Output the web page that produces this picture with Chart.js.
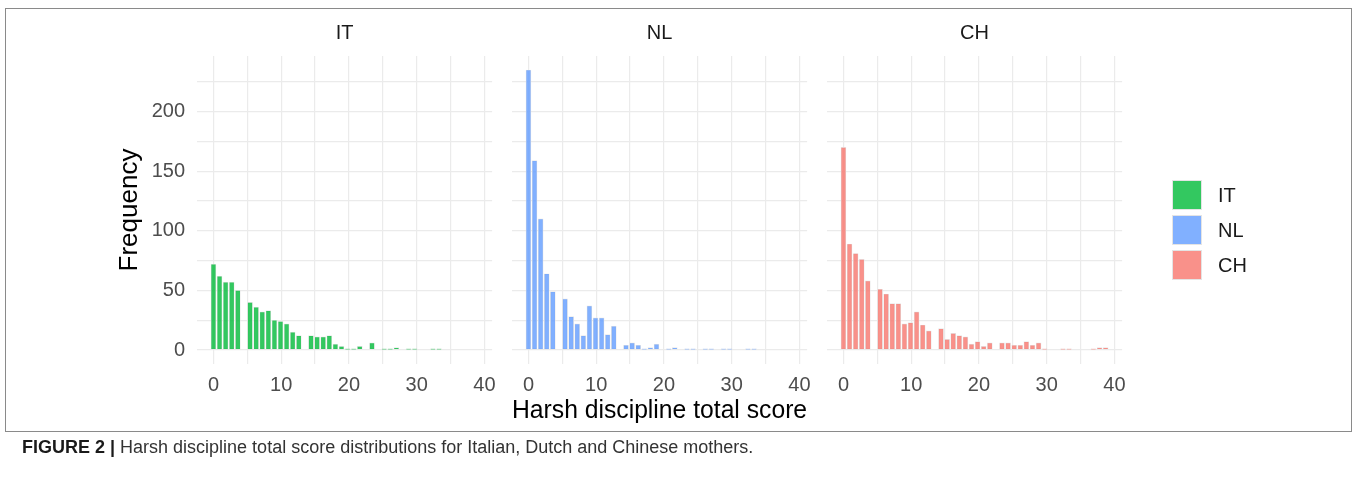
<!DOCTYPE html>
<html>
<head>
<meta charset="utf-8">
<script src="https://cdn.jsdelivr.net/npm/chart.js@4.4.1/dist/chart.umd.min.js"></script>
<style>
  html, body { margin: 0; padding: 0; background: #ffffff; }
  body { width: 1358px; height: 496px; position: relative; overflow: hidden;
         font-family: "Liberation Sans", Arial, Helvetica, sans-serif; }
  #frame { position: absolute; left: 5px; top: 8px; width: 1347px; height: 424px;
           border: 1px solid #8a8a8a; box-sizing: border-box; }
  canvas.panel { position: absolute; left: 0; top: 0; }
  .key { position: absolute; left: 1172px; width: 30px; height: 30px; box-sizing: border-box;
         border: 1px solid #e4e4e4; }
  .keylab { position: absolute; left: 1218px; font-size: 20px; line-height: 30px; color: #1a1a1a; }
  #caption { position: absolute; left: 22px; top: 437px; font-size: 18px; line-height: 20px;
             color: #333333; white-space: nowrap; }
  #caption b { color: #1a1a1a; }
</style>
</head>
<body>
<div id="frame"></div>
<canvas class="panel" id="pIT" width="1358" height="496"></canvas>
<canvas class="panel" id="pNL" width="1358" height="496"></canvas>
<canvas class="panel" id="pCH" width="1358" height="496"></canvas>
<div id="legend"></div>
<div id="caption"><b>FIGURE 2 |</b> Harsh discipline total score distributions for Italian, Dutch and Chinese mothers.</div>

<script>
// Histogram bin midpoints (total score), one bin per bar
const binMid = [0, 0.9, 1.8, 2.7, 3.6, 4.5, 5.4, 6.3, 7.2, 8.1,
                9, 9.9, 10.8, 11.7, 12.6, 13.5, 14.4, 15.3, 16.2, 17.1,
                18, 18.9, 19.8, 20.7, 21.6, 22.5, 23.4, 24.3, 25.2, 26.1,
                27, 27.9, 28.8, 29.7, 30.6, 31.5, 32.4, 33.3, 34.2, 35.1,
                36, 36.9, 37.8, 38.7];

// Frequencies per bin, one array per country
const countsIT = [72, 62, 57, 57, 50, 0, 40, 36, 32, 33,
                  25, 24, 22, 15, 12, 0, 12, 11, 11, 12,
                  5, 3, 1, 1, 3, 0, 6, 0, 1, 1,
                  2, 0, 1, 1, 0, 0, 1, 1, 0, 0,
                  0, 0, 0, 0];
const countsNL = [235, 159, 110, 64, 49, 0, 43, 28, 22, 12,
                  37, 27, 27, 13, 20, 0, 4, 6, 4, 1,
                  2, 5, 0, 1, 2, 0, 1, 1, 0, 1,
                  1, 0, 1, 1, 0, 0, 1, 1, 0, 0,
                  0, 0, 0, 0];
const countsCH = [170, 89, 81, 76, 58, 0, 51, 47, 39, 39,
                  22, 23, 32, 21, 16, 0, 18, 9, 14, 12,
                  11, 5, 7, 3, 6, 0, 6, 6, 4, 4,
                  7, 4, 6, 1, 0, 0, 1, 1, 0, 0,
                  0, 1, 2, 2];

const countries = ['IT', 'NL', 'CH'];
const countryCounts = [countsIT, countsNL, countsCH];
const countryColors = ['rgba(0,186,56,0.8)', 'rgba(97,156,255,0.8)', 'rgba(248,118,109,0.8)'];

// Axis ticks: gridlines at every value, labels only where listed
const xGridValues = [0, 5, 10, 15, 20, 25, 30, 35, 40];
const xTickLabels = [0, 10, 20, 30, 40];
const yGridValues = [0, 25, 50, 75, 100, 125, 150, 175, 200, 225];
const yTickLabels = [0, 50, 100, 150, 200];

const FONT = '"Liberation Sans", Arial, Helvetica, sans-serif';
Chart.defaults.font.family = FONT;

// Shared scale limits with 5% expansion on each side
const half = (binMid[1] - binMid[0]) / 2;
const xLo = binMid[0] - half, xHi = binMid[binMid.length - 1] + half;
const xPad = (xHi - xLo) * 0.05;
const yTop = Math.max(...countryCounts.map(c => Math.max(...c)));
const yPad = yTop * 0.05;

// Page layout of the three facets (pixels)
const W = 1358;
const plotLeft = [197, 512, 827];
const plotWidth = 295.1;
const yAxisLeft = 110;          // left edge of the Frequency axis block
const xAxisBlock = 76;          // height below plot for ticks / title
const canvasBottomPad = 56;

function setTicks(values) {
  return axis => { axis.ticks = values.map(v => ({ value: v })); };
}

function makePanel(idx) {
  const first = idx === 0;
  const middle = idx === 1;
  const left = plotLeft[idx];
  const ctx = document.getElementById('p' + countries[idx]);
  return new Chart(ctx, {
    type: 'bar',
    data: {
      datasets: [{
        data: binMid.map((x, i) => ({ x: x, y: countryCounts[idx][i] })),
        backgroundColor: countryColors[idx],
        borderColor: '#e6e6e6',
        borderWidth: 0.7,
        borderSkipped: false,
        barThickness: 5.0
      }]
    },
    options: {
      responsive: false,
      animation: false,
      devicePixelRatio: 1,
      layout: {
        padding: {
          left: first ? yAxisLeft : left,
          right: W - (left + plotWidth),
          top: 0,
          bottom: canvasBottomPad
        }
      },
      plugins: {
        legend: { display: false },
        tooltip: { enabled: false },
        title: {
          display: true,
          text: countries[idx],
          fullSize: false,
          color: '#1a1a1a',
          font: { size: 20, weight: 'normal', family: FONT },
          padding: { top: 21, bottom: 11 }
        }
      },
      scales: {
        x: {
          type: 'linear',
          offset: false,
          min: xLo - xPad,
          max: xHi + xPad,
          afterBuildTicks: setTicks(xGridValues),
          afterFit: axis => { axis.height = xAxisBlock; },
          border: { display: false },
          grid: { color: '#ebebeb', lineWidth: 1.2, drawTicks: false, offset: false },
          ticks: {
            autoSkip: false, maxRotation: 0, padding: 9,
            color: '#4d4d4d', font: { size: 20 },
            callback: v => xTickLabels.includes(v) ? String(v) : ''
          },
          title: {
            display: middle,
            text: 'Harsh discipline total score',
            color: '#000000',
            font: { size: 26 },
            padding: { top: 0, bottom: 13.4 }
          }
        },
        y: {
          min: -yPad,
          max: yTop + yPad,
          afterBuildTicks: setTicks(yGridValues),
          afterFit: axis => { axis.width = first ? left - yAxisLeft : 0; },
          border: { display: false },
          grid: { color: '#ebebeb', lineWidth: 1.2, drawTicks: false },
          ticks: {
            display: first, padding: 12,
            color: '#4d4d4d', font: { size: 20 },
            callback: v => yTickLabels.includes(v) ? String(v) : ''
          },
          title: {
            display: first,
            text: 'Frequency',
            color: '#000000',
            font: { size: 26 },
            padding: { top: 4, bottom: 0 }
          }
        }
      }
    }
  });
}

countries.forEach((c, i) => makePanel(i));

// Legend keys and labels
const legend = document.getElementById('legend');
const keyTops = [179.5, 214.5, 249.5];
countries.forEach((c, i) => {
  const k = document.createElement('div');
  k.className = 'key';
  k.style.top = keyTops[i] + 'px';
  k.style.background = countryColors[i];
  legend.appendChild(k);
  const t = document.createElement('div');
  t.className = 'keylab';
  t.style.top = keyTops[i] + 'px';
  t.textContent = c;
  legend.appendChild(t);
});
</script>
</body>
</html>
